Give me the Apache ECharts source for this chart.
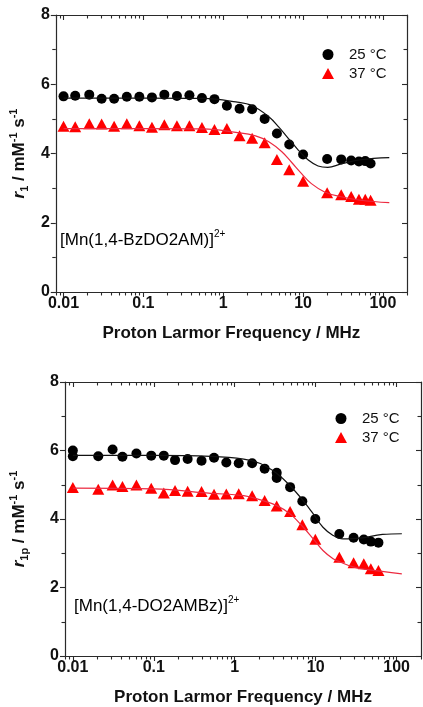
<!DOCTYPE html>
<html>
<head>
<meta charset="utf-8">
<script src="https://cdn.jsdelivr.net/npm/echarts@6/dist/echarts.min.js"></script>
<style>
  html, body { margin: 0; padding: 0; background: #fff; }
  #chart { width: 423px; height: 707px; }
</style>
</head>
<body>
<div id="chart"></div>
<script>
// ---- data ----
// top panel: [Mn(1,4-BzDO2AM)]2+
const freqTop = [0.01, 0.014, 0.021, 0.03, 0.043, 0.062, 0.089, 0.128, 0.183, 0.263, 0.377, 0.541, 0.776,
  1.11, 1.6, 2.3, 3.3, 4.7, 6.7, 10, 20, 30, 40, 50, 60, 70]
const r25Top = [5.65, 5.67, 5.70, 5.58, 5.58, 5.64, 5.64, 5.62, 5.70, 5.66, 5.68, 5.60, 5.57,
  5.38, 5.29, 5.28, 5.00, 4.58, 4.26, 3.97, 3.84, 3.83, 3.80, 3.77, 3.78, 3.71]
const r37Top = [4.79, 4.77, 4.86, 4.85, 4.79, 4.86, 4.80, 4.76, 4.83, 4.80, 4.80, 4.75, 4.69,
  4.72, 4.51, 4.44, 4.31, 3.83, 3.53, 3.20, 2.87, 2.81, 2.76, 2.68, 2.68, 2.65]
const fitTop25X = [0.01, 0.1, 0.56, 1.44, 2.31, 3.72, 4.94, 6.56, 8.7, 11.6, 15.4, 20.4, 29.8, 52.7, 120]
const fitTop25Y = [5.60, 5.60, 5.59, 5.49, 5.38, 5.06, 4.77, 4.43, 4.10, 3.81, 3.64, 3.60, 3.70, 3.82, 3.88]
const fitTop37X = [0.01, 0.1, 0.56, 1.44, 2.54, 3.72, 5.42, 7.2, 9.57, 12.7, 18.6, 29.8, 52.7, 120]
const fitTop37Y = [4.72, 4.72, 4.71, 4.61, 4.51, 4.34, 4.05, 3.74, 3.42, 3.13, 2.89, 2.75, 2.65, 2.58]

// bottom panel: [Mn(1,4-DO2AMBz)]2+
const freqBot = [0.01, 0.01, 0.0206, 0.031, 0.041, 0.061, 0.093, 0.133, 0.183, 0.262, 0.389, 0.555, 0.787,
  1.12, 1.64, 2.34, 3.3, 3.3, 4.83, 6.84, 9.9, 19.6, 29.4, 39.3, 48, 59.6]
const r25Bot = [6.00, 5.83, 5.83, 6.03, 5.82, 5.91, 5.85, 5.85, 5.72, 5.75, 5.70, 5.79, 5.65,
  5.63, 5.63, 5.47, 5.35, 5.20, 4.93, 4.52, 4.00, 3.56, 3.45, 3.40, 3.34, 3.31]
const freqBot37 = [0.01, 0.0206, 0.031, 0.041, 0.061, 0.093, 0.133, 0.183, 0.262, 0.389, 0.555, 0.787,
  1.12, 1.64, 2.34, 3.3, 4.83, 6.84, 9.9, 19.6, 29.4, 39.3, 48, 59.6]
const r37Bot = [4.92, 4.87, 4.99, 4.95, 4.99, 4.90, 4.76, 4.83, 4.81, 4.80, 4.72, 4.73,
  4.74, 4.68, 4.54, 4.38, 4.22, 3.83, 3.41, 2.88, 2.72, 2.69, 2.55, 2.50]
const fitBot25X = [0.01, 0.1, 0.505, 1.29, 2.07, 3.31, 4.83, 7.03, 9.33, 12.3, 16.4, 21.7, 34.9, 67, 116]
const fitBot25Y = [5.86, 5.86, 5.83, 5.75, 5.62, 5.33, 4.97, 4.53, 4.15, 3.76, 3.52, 3.42, 3.44, 3.55, 3.57]
const fitBot37X = [0.01, 0.1, 0.505, 1.29, 2.27, 3.31, 4.83, 7.03, 9.33, 12.3, 16.4, 19.4, 29, 41.7, 116]
const fitBot37Y = [4.90, 4.88, 4.75, 4.68, 4.53, 4.39, 4.15, 3.76, 3.42, 3.08, 2.84, 2.76, 2.60, 2.53, 2.40]

const majorTicks = [0.01, 0.1, 1, 10, 100]
const yTicks = [0, 2, 4, 6, 8]
const legendNames = ['25 °C', '37 °C']

// minor log ticks 2..9 x 10^k inside 0.008..200
const minorTicks = []
for (let e = -3; e <= 2; e++) {
  for (let m = 2; m <= 9; m++) {
    const v = +(m * Math.pow(10, e)).toPrecision(2)
    if (v >= 0.008 && v <= 200) minorTicks.push(v)
  }
}

const FONT = "'Liberation Sans', Arial, sans-serif"
const AXIS_COLOR = '#2a2a2a'
const zip = (xs, ys) => xs.map((x, i) => [x, ys[i]])

const chart = echarts.init(document.getElementById('chart'))

function xAxesFor(g) {
  const base = {
    gridIndex: g, type: 'log', logBase: 10, min: 0.008, max: 200,
    splitLine: { show: false },
    axisLine: { show: true, lineStyle: { color: AXIS_COLOR, width: 1.2 } },
  }
  const tickStyle = { color: AXIS_COLOR, width: 1.1 }
  return [
    {
      ...base, position: 'bottom',
      axisTick: { show: true, customValues: majorTicks, length: 5, lineStyle: tickStyle },
      axisLabel: {
        customValues: majorTicks, margin: 4,
        fontFamily: FONT, fontWeight: 'bold', fontSize: 16, color: '#111',
        formatter: v => String(+(+v).toPrecision(3)),
      },
      name: 'Proton Larmor Frequency / MHz',
      nameLocation: 'middle', nameGap: 33,
      nameTextStyle: { fontFamily: FONT, fontWeight: 'bold', fontSize: 17, color: '#111' },
    },
    {
      ...base, position: 'bottom',
      axisTick: { show: true, customValues: minorTicks, length: 3.5, lineStyle: tickStyle },
      axisLabel: { show: false },
    },
    {
      ...base, position: 'top',
      axisTick: { show: true, customValues: majorTicks, length: 5, inside: true, lineStyle: tickStyle },
      axisLabel: { show: false },
    },
    {
      ...base, position: 'top',
      axisTick: { show: true, customValues: minorTicks, length: 3.5, inside: true, lineStyle: tickStyle },
      axisLabel: { show: false },
    },
  ]
}

function yAxesFor(g, nameRich, nameGap) {
  const base = {
    gridIndex: g, type: 'value', min: 0, max: 8, interval: 2,
    splitLine: { show: false },
    axisLine: { show: true, lineStyle: { color: AXIS_COLOR, width: 1.2 } },
    minorTick: { show: true, splitNumber: 2, length: 3.5, lineStyle: { color: AXIS_COLOR, width: 1.1 } },
  }
  return [
    {
      ...base, position: 'left',
      axisTick: { length: 5, lineStyle: { color: AXIS_COLOR, width: 1.1 } },
      axisLabel: {
        margin: 6, fontFamily: FONT, fontWeight: 'bold', fontSize: 16, color: '#111',
        customValues: yTicks,
      },
      name: nameRich, nameLocation: 'middle', nameGap: nameGap, nameRotate: 90,
      nameTextStyle: {
        fontFamily: FONT, fontWeight: 'bold', fontSize: 17, color: '#111',
        rich: {
          i: { fontFamily: FONT, fontWeight: 'bold', fontStyle: 'italic', fontSize: 17, lineHeight: 22, color: '#111' },
          t: { fontFamily: FONT, fontWeight: 'bold', fontSize: 17, lineHeight: 22, color: '#111' },
          sub: { fontFamily: FONT, fontWeight: 'bold', fontSize: 11, lineHeight: 10, verticalAlign: 'bottom', color: '#111' },
          sup: { fontFamily: FONT, fontWeight: 'bold', fontSize: 11, lineHeight: 10, verticalAlign: 'top', color: '#111' },
        },
      },
    },
    {
      ...base, position: 'right',
      axisTick: { length: 5, inside: true, lineStyle: { color: AXIS_COLOR, width: 1.1 } },
      axisLabel: { show: false },
    },
  ]
}

function seriesFor(g, xi, yi, f25, y25, f37, y37, fx25, fy25, fx37, fy37) {
  return [
    {
      name: 'fit25-' + g, type: 'line', xAxisIndex: xi, yAxisIndex: yi,
      data: zip(fx25, fy25), smooth: 0.4, showSymbol: false, silent: true,
      lineStyle: { color: '#111', width: 1.2 },
    },
    {
      name: 'fit37-' + g, type: 'line', xAxisIndex: xi, yAxisIndex: yi,
      data: zip(fx37, fy37), smooth: 0.4, showSymbol: false, silent: true,
      lineStyle: { color: '#ec2a40', width: 1.2 },
    },
    {
      name: legendNames[0], type: 'scatter', xAxisIndex: xi, yAxisIndex: yi,
      data: zip(f25, y25), symbol: 'circle', symbolSize: 10,
      itemStyle: { color: '#000', opacity: 1 },
    },
    {
      name: legendNames[1], type: 'scatter', xAxisIndex: xi, yAxisIndex: yi,
      data: zip(f37, y37), symbol: 'triangle', symbolSize: [12, 11],
      itemStyle: { color: '#ff0000', opacity: 1 },
    },
  ]
}

const legendBase = {
  data: legendNames, orient: 'vertical', selectedMode: false,
  itemWidth: 12, itemHeight: 11, itemGap: 4, padding: 0,
  textStyle: { fontFamily: FONT, fontSize: 15, color: '#111', padding: [0, 0, 0, 10] },
}

const annoRich = {
  a: { fontFamily: FONT, fontSize: 17, lineHeight: 22, color: '#111' },
  s: { fontFamily: FONT, fontSize: 10, lineHeight: 10, verticalAlign: 'top', color: '#111' },
}

const option = {
  backgroundColor: '#fff',
  animation: false,
  grid: [
    { left: 50, top: 15, width: 357, height: 277 },
    { left: 63, top: 382, width: 358, height: 276 },
  ],
  xAxis: [...xAxesFor(0), ...xAxesFor(1)],
  yAxis: [
    ...yAxesFor(0, '{i|r}{sub|1}{t| / mM}{sup|-1}{t| s}{sup|-1}', 22),
    ...yAxesFor(1, '{i|r}{sub|1p}{t| / mM}{sup|-1}{t| s}{sup|-1}', 35),
  ],
  legend: [
    { ...legendBase, left: 322, top: 47 },
    { ...legendBase, left: 335, top: 411 },
  ],
  graphic: [
    { type: 'text', left: 60, top: 229, style: { text: '{a|[Mn(1,4-BzDO2AM)]}{s|2+}', rich: annoRich } },
    { type: 'text', left: 74, top: 595, style: { text: '{a|[Mn(1,4-DO2AMBz)]}{s|2+}', rich: annoRich } },
  ],
  series: [
    ...seriesFor(0, 0, 0, freqTop, r25Top, freqTop, r37Top, fitTop25X, fitTop25Y, fitTop37X, fitTop37Y),
    ...seriesFor(1, 4, 2, freqBot, r25Bot, freqBot37, r37Bot, fitBot25X, fitBot25Y, fitBot37X, fitBot37Y),
  ],
}

chart.setOption(option)
window.addEventListener('resize', () => chart.resize())
</script>
</body>
</html>
